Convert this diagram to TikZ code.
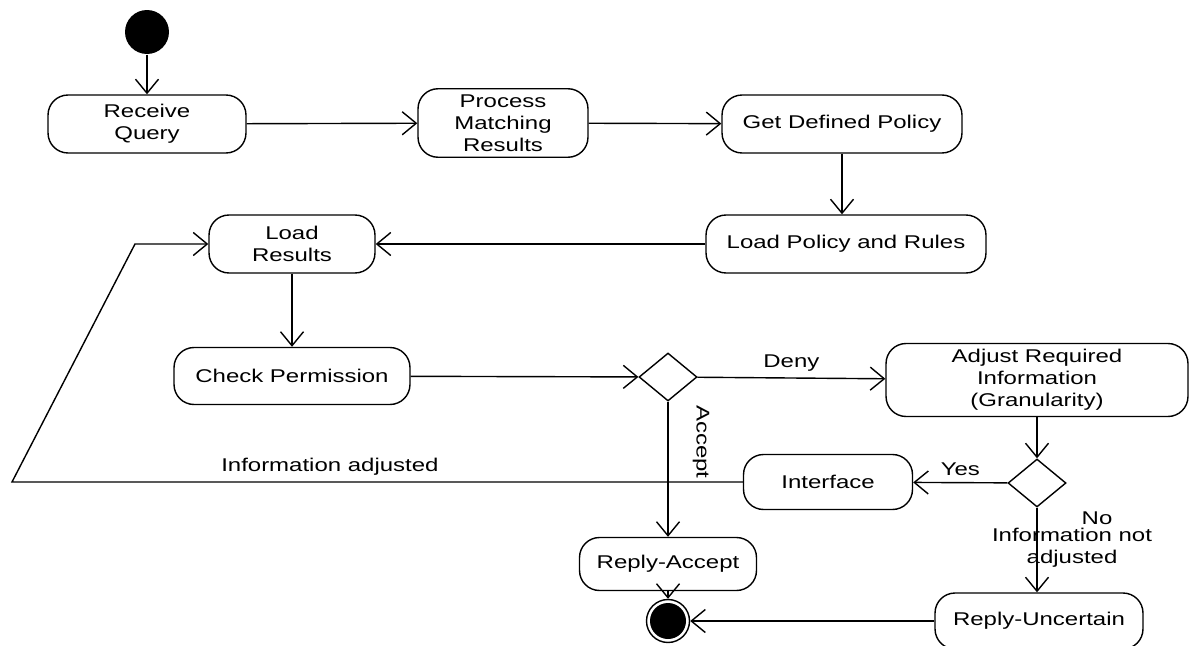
\documentclass[tikz,border=0pt]{standalone}
\usepackage{fontspec}
\setmainfont{Liberation Sans}[FakeStretch=1.3]
\usetikzlibrary{positioning}
\usetikzlibrary{shapes.geometric}
\usetikzlibrary{arrows.meta}

\tikzset{
	act/.style={rectangle, rounded corners=0.4cm, draw, align=center},
	decision/.style={diamond, draw, minimum width=1.16cm, minimum height=0.96cm, inner sep=0pt},
	endstate/.style={circle, draw, minimum size=0.86cm,
		path picture={\fill (path picture bounding box.center) circle (0.36cm);}}
}

\begin{document}
\begin{tikzpicture}[x=0.02cm, y=-0.02cm, every path/.style={>={Straight Barb[length=2.8mm,width=4.6mm]}, line width=0.8pt}, font=\fontsize{10.5}{12.5}\selectfont]
	\useasboundingbox (0,0) rectangle (1192,645);
	\node (Start) at (147,32) [circle,fill,minimum size=0.88cm] {};
	\node (Receive) at (147,124) [act, minimum width=3.96cm, minimum height=1.16cm] {Receive\\Query};
	\node (Process) at (503,123) [act, minimum width=3.4cm, minimum height=1.26cm] {Process\\Matching\\Results};
	\node (GetPolicy) at (842,124) [act, minimum width=4.8cm, minimum height=1.16cm] {Get Defined Policy};
	\node (LoadPolicy) at (846,244) [act, minimum width=5.6cm, minimum height=1.16cm] {Load Policy and Rules};
	\node (LoadResults) at (292,244) [act, minimum width=3.32cm, minimum height=1.16cm] {Load\\Results};
	\node (Check) at (292,376) [act, minimum width=4.72cm, minimum height=1.14cm] {Check Permission};
	\node (Decide) at (668,377) [decision] {};
	\node (Adjust) at (1037,380) [act, minimum width=6.04cm, minimum height=1.46cm] {Adjust Required\\Information\\(Granularity)};
	\node (Adjusted) at (1037,483) [decision] {};
	\node (Interface) at (828,482) [act, minimum width=3.38cm, minimum height=1.1cm] {Interface};
	\node (ReplyAccept) at (668,564) [act, minimum width=3.54cm, minimum height=1.06cm] {Reply-Accept};
	\node (End) at (668,621) [endstate] {};
	\node (ReplyUncertain) at (1039,621) [act, minimum width=4.16cm, minimum height=1.12cm] {Reply-Uncertain};
	\node (AcceptLabel) at (701,442) [rotate=-90] {Accept};
	\node (NoLabel) at (1097,518) {No};
	\node (NotAdjusted) at (1072,548) [align=center] {Information not\\adjusted};
	\coordinate (Back1) at (12,482);
	\coordinate (Back2) at (135,244);
	\draw[->] (Start) to (Receive);
	\draw[->] (Receive) to (Process);
	\draw[->] (Process) to (GetPolicy);
	\draw[->] (GetPolicy.south) to (GetPolicy.south |- LoadPolicy.north);
	\draw[->] (LoadPolicy) to (LoadResults);
	\draw[->] (LoadResults) to (Check);
	\draw[->] (Check) to (Decide);
	\draw[->] (Decide) to node[above]{Deny} (Adjust);
	\draw[->] (Decide) to (ReplyAccept);
	\draw[->] (Adjust) to (Adjusted);
	\draw[->] (Adjusted) to node[above]{Yes} (Interface);
	\draw[->] (Adjusted) to (Adjusted |- ReplyUncertain.north);
	\draw[->] (ReplyAccept) to (End);
	\draw[->] (ReplyUncertain) to (End);
	\draw[->] (Interface) -- node[above, pos=0.565]{Information adjusted} (Back1) -- (Back2) -- (LoadResults);
\end{tikzpicture}
\end{document}
